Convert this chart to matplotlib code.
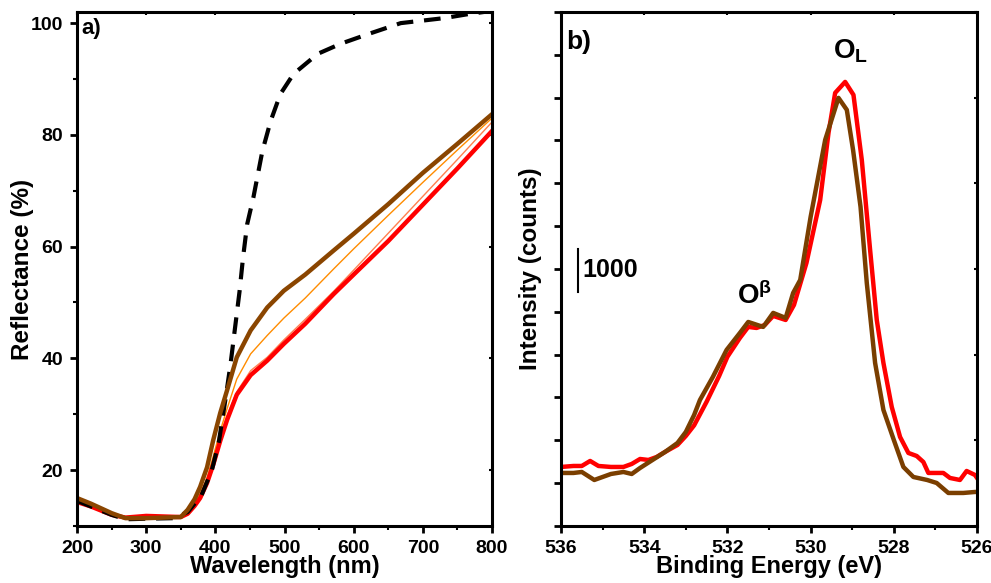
import numpy as np
import matplotlib.pyplot as plt
from matplotlib.ticker import MultipleLocator

plt.rcParams['font.family'] = ['Liberation Sans', 'DejaVu Sans']
plt.rcParams['font.weight'] = 'bold'
plt.rcParams['mathtext.fontset'] = 'custom'
plt.rcParams['mathtext.rm'] = 'Liberation Sans:bold'
plt.rcParams['mathtext.bf'] = 'Liberation Sans:bold'
plt.rcParams['mathtext.it'] = 'Liberation Sans:bold'

# (a) diffuse reflectance spectra
wl_ref = [200, 220, 250, 270, 300, 340, 360, 380, 395, 405, 415, 422, 429, 435, 440,
          446, 455, 468, 480, 494, 513, 548, 581, 620, 668, 731, 765, 800]
r_ref = [14.5, 13.5, 12.0, 11.2, 11.3, 11.4, 12.5, 15.5, 20.0, 25.0, 33.0, 39.0, 46.0, 52.0, 58.0,
         64.0, 68.8, 77.1, 82.5, 87.3, 90.9, 94.5, 96.3, 98.0, 100.0, 100.9, 101.6, 102.2]

wl_s = [200, 220, 250, 270, 300, 350, 360, 370, 378, 388, 397, 407, 417, 431, 451, 475,
        499, 530, 571, 600, 650, 700, 750, 800]
r_brown = [15.0, 14.0, 12.3, 11.4, 11.4, 11.6, 12.9, 14.8, 17.0, 20.5, 25.4, 30.2, 34.3, 40.2, 45.0, 49.1,
           52.1, 55.0, 59.3, 62.3, 67.6, 73.2, 78.4, 83.7]
r_orange = [14.7, 13.8, 12.2, 11.4, 11.4, 11.5, 12.5, 14.2, 15.8, 18.6, 22.5, 27.0, 31.0, 36.3, 40.8, 44.1,
            47.2, 50.8, 56.0, 59.6, 65.6, 71.5, 77.3, 83.0]
r_salmon = [14.5, 13.7, 12.1, 11.4, 11.5, 11.5, 12.3, 13.9, 15.4, 18.0, 21.8, 26.3, 29.8, 34.0, 37.8, 40.2,
            43.3, 47.0, 52.0, 55.8, 62.4, 69.0, 75.6, 82.3]
r_red = [14.3, 13.5, 12.0, 11.5, 11.8, 11.6, 12.2, 13.6, 15.0, 17.7, 21.0, 25.2, 29.0, 33.5, 37.0, 39.6,
         42.6, 46.2, 51.5, 55.0, 61.0, 67.5, 74.0, 80.7]

# (b) O 1s XPS spectra
be_red = [536.0, 535.7, 535.5, 535.3, 535.1, 534.8, 534.5, 534.3, 534.1, 533.9, 533.7, 533.5, 533.2,
          533.0, 532.8, 532.5, 532.2, 532.0, 531.7, 531.5, 531.3, 531.1, 530.9, 530.6, 530.4, 530.1,
          529.77, 529.57, 529.41, 529.17, 528.97, 528.77, 528.57, 528.41, 528.25, 528.05, 527.85,
          527.65, 527.45, 527.29, 527.17, 526.81, 526.65, 526.41, 526.25, 526.05, 526.0]
i_red = [1378, 1401, 1401, 1518, 1401, 1378, 1378, 1448, 1564, 1541, 1611, 1728, 1891,
         2101, 2350, 2900, 3500, 3950, 4390, 4647, 4623, 4693, 4904, 4810, 5160, 6141,
         7612, 9177, 10111, 10367, 10064, 8546, 6445, 4810, 3806, 2779, 2078,
         1705, 1634, 1494, 1238, 1238, 1121, 1074, 1284, 1191, 1121]

be_brown = [536.0, 535.7, 535.5, 535.2, 534.8, 534.5, 534.3, 534.1, 533.8, 533.5, 533.2, 533.0,
            532.8, 532.66, 532.35, 532.02, 531.7, 531.5, 531.14, 530.9, 530.6, 530.42, 530.25,
            530.0, 529.65, 529.33, 529.13, 528.98, 528.8, 528.65, 528.45, 528.25, 528.0, 527.77,
            527.53, 527.2, 526.97, 526.69, 526.33, 526.05, 526.0]
i_brown = [1238, 1238, 1261, 1074, 1214, 1261, 1214, 1354, 1541, 1728, 1938, 2195,
           2592, 2942, 3479, 4110, 4507, 4763, 4647, 4974, 4857, 5441, 5744,
           7215, 9013, 9994, 9714, 8780, 7449, 5674, 3806, 2709, 2008, 1378,
           1144, 1074, 1004, 771, 771, 794, 794]

fig = plt.figure(figsize=(9.91, 5.83), dpi=100)
ax1 = fig.add_axes([0.0777, 0.0978, 0.4188, 0.8817])
ax2 = fig.add_axes([0.5661, 0.0978, 0.4198, 0.8817])

brown = '#8a4500'

ax1.plot(wl_s, r_salmon, color='#ff8050', lw=1.0)
ax1.plot(wl_s, r_orange, color='#ff8c00', lw=1.0)
ax1.plot(wl_s, r_red, color='#ff0000', lw=3.2)
ax1.plot(wl_ref, r_ref, color='black', lw=3.0, ls=(0, (4, 2.6)))
ax1.plot(wl_s, r_brown, color=brown, lw=3.2)

ax1.set_xlim(200, 800)
ax1.set_ylim(10, 102)
ax1.xaxis.set_major_locator(MultipleLocator(100))
ax1.xaxis.set_minor_locator(MultipleLocator(50))
ax1.yaxis.set_major_locator(MultipleLocator(20))
ax1.yaxis.set_minor_locator(MultipleLocator(10))
ax1.set_yticks([20, 40, 60, 80, 100])
ax1.set_xlabel('Wavelength (nm)', fontsize=17, fontweight='bold', labelpad=-1)
ax1.set_ylabel('Reflectance (%)', fontsize=17.5, fontweight='bold', labelpad=-2)
ax1.text(0.01, 0.988, 'a)', transform=ax1.transAxes, fontsize=16, fontweight='bold',
         ha='left', va='top')

ax2.plot(be_red, i_red, color='#ff0000', lw=3.2)
ax2.plot(be_brown, i_brown, color='#7a3e00', lw=3.2)
ax2.set_xlim(536, 526)
ax2.set_ylim(0, 12000)
ax2.xaxis.set_major_locator(MultipleLocator(2))
ax2.xaxis.set_minor_locator(MultipleLocator(1))
ax2.yaxis.set_major_locator(MultipleLocator(1000))
ax2.set_yticklabels([])
ax2.set_xlabel('Binding Energy (eV)', fontsize=17, fontweight='bold', labelpad=-1)
ax2.set_ylabel('Intensity (counts)', fontsize=17.5, fontweight='bold', labelpad=4)
ax2.text(0.012, 0.965, 'b)', transform=ax2.transAxes, fontsize=19, fontweight='bold',
         ha='left', va='top')

# scale bar
ax2.plot([535.6, 535.6], [5470, 6470], color='black', lw=1.5)
ax2.text(535.48, 5970, '1000', fontsize=18, fontweight='bold', ha='left', va='center')
ax2.text(529.05, 10750, r'O$_\mathregular{L}$', fontsize=20, ha='center', va='bottom')
ax2.text(531.35, 5050, r'O$^\mathregular{\beta}$', fontsize=20, ha='center', va='bottom')

for ax in (ax1, ax2):
    for s in ax.spines.values():
        s.set_linewidth(2.2)
    ax.tick_params(which='major', direction='out', length=5, width=2, labelsize=14, pad=5)
    ax.tick_params(which='minor', direction='out', length=3, width=1.5)
    ax.tick_params(which='both', top=False, right=False)
    for lab in ax.get_xticklabels() + ax.get_yticklabels():
        lab.set_fontweight('bold')
    sec = ax.secondary_xaxis('top')
    sec.set_xticklabels([])
    sec.tick_params(which='both', direction='in', length=2, width=1.5)
    sec.spines['top'].set_visible(False)
    secy = ax.secondary_yaxis('right')
    secy.set_yticklabels([])
    secy.tick_params(which='both', direction='in', length=2, width=1.5)
    secy.spines['right'].set_visible(False)

fig.savefig('out.png', dpi=100)
